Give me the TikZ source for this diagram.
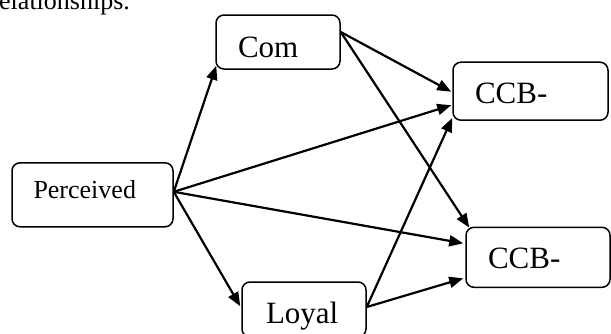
\documentclass[tikz,border=0pt]{standalone}
\usepackage{fontspec}
\setmainfont{Liberation Serif}
\usetikzlibrary{arrows.meta,calc}
\begin{document}
\begin{tikzpicture}[x=1pt,y=-1pt,
  box/.style={draw,line width=1.5pt,rounded corners=8pt,inner sep=0pt,
    text depth=0pt,align=left,font=\fontsize{31}{36}\selectfont},
  conn/.style={line width=2.2pt,-{Triangle[length=14pt,width=11pt]}}]
\useasboundingbox (0,0) rectangle (611,333);
\node[anchor=base west,inner sep=0pt,font=\fontsize{26}{30}\selectfont] (hdr) at (-1,9) {elationships.};
% boxes: centre, width, height, text
\node[box,minimum width=124pt,minimum height=54pt,text width=80pt,text height=30pt] (com) at (278,42) {Com};
\node[box,minimum width=155pt,minimum height=58pt,text width=111pt,text height=24pt] (ccbA) at (530.5,91.2) {CCB-};
\node[box,minimum width=144pt,minimum height=60pt,text width=100pt,text height=22pt] (ccbB) at (538,257.3) {CCB-};
\node[box,minimum width=161pt,minimum height=64pt,text width=118pt,text height=8pt,font=\fontsize{26}{30}\selectfont] (perc) at (92.5,194.8) {Perceived};
\node[box,minimum width=124pt,minimum height=55pt,text width=76pt,text height=28pt] (loyal) at (304,309.5) {Loyal};
% connectors
\draw[conn] ($(perc.east)+(0,-3)$) -- ($(com.south west)+(1,-4)$);
\draw[conn] ($(perc.east)+(0,-3)$) -- ($(ccbA.west)+(-1,14)$);
\draw[conn] ($(perc.east)+(0,-3)$) -- ($(ccbB.west)+(-2,-14)$);
\draw[conn] ($(perc.east)+(0,-3)$) -- ($(loyal.north west)+(-1,25)$);
\draw[conn] ($(com.east)+(0,-10)$) -- ($(ccbA.west)+(-1,0.5)$);
\draw[conn] ($(com.east)+(0,-10)$) -- ($(ccbB.north west)+(4,1)$);
\draw[conn] ($(loyal.east)+(0,-2.5)$) -- ($(ccbA.south west)+(0,-3)$);
\draw[conn] ($(loyal.east)+(0,-2.5)$) -- ($(ccbB.west)+(-2,21)$);
\end{tikzpicture}
\end{document}
